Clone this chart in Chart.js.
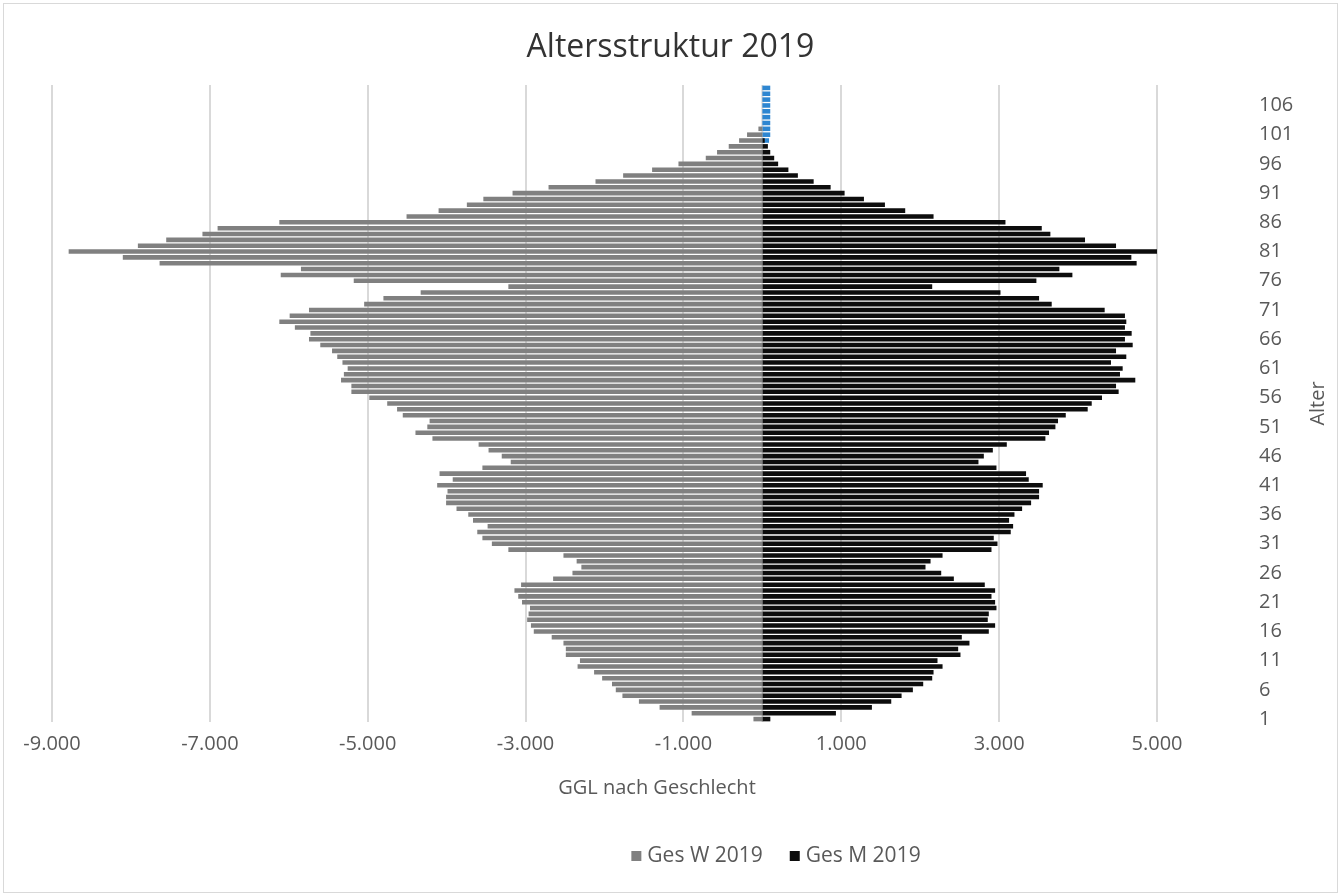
<!DOCTYPE html>
<html>
<head>
<meta charset="utf-8">
<script src="https://cdn.jsdelivr.net/npm/chart.js@4.4.0/dist/chart.umd.min.js"></script>
<style>
  html, body { margin: 0; padding: 0; background: #fff; }
  #wrap { width: 1341px; height: 896px; position: relative; }
</style>
</head>
<body>
<div id="wrap"><canvas id="pyramide" width="1341" height="896"></canvas></div>
<script>
// Alter 1..109
const alter = Array.from({ length: 109 }, (_, i) => String(i + 1));

// Ges W 2019 (negativ, linke Seite), Alter 1..109
const gesW2019 = [
    -113, -896, -1302, -1564, -1773, -1857, -1905, -2030, -2132, -2341,
    -2311, -2490, -2490, -2520, -2669, -2896, -2932, -2980, -2962, -2944,
    -3045, -3093, -3141, -3057, -2651, -2406, -2293, -2353, -2520, -3218,
    -3427, -3547, -3612, -3481, -3666, -3726, -3875, -4007, -4007, -3989,
    -4120, -3923, -4090, -3547, -3188, -3302, -3469, -3595, -4180, -4395,
    -4245, -4216, -4556, -4628, -4753, -4980, -5207, -5207, -5338, -5302,
    -5254, -5320, -5386, -5452, -5601, -5744, -5726, -5923, -6120, -5989,
    -5744, -5045, -4801, -4329, -3218, -5177, -6102, -5846, -7637, -8103,
    -8789, -7912, -7553, -7094, -6902, -6120, -4508, -4102, -3744, -3535,
    -3165, -2709, -2114, -1764, -1397, -1063, -717, -574, -426, -295,
    -194, -50, 0, 0, 0, 0, 0, 0, 0
];

// Ges M 2019 (rechte Seite), Alter 1..109
const gesM2019 = [
    101, 932, 1388, 1633, 1764, 1907, 2038, 2152, 2169, 2283,
    2219, 2510, 2481, 2624, 2527, 2869, 2949, 2856, 2869, 2966,
    2949, 2903, 2949, 2818, 2426, 2266, 2067, 2131, 2283, 2903,
    2979, 2932, 3147, 3177, 3126, 3194, 3291, 3405, 3506, 3506,
    3552, 3375, 3341, 2966, 2738, 2806, 2920, 3097, 3586, 3632,
    3713, 3746, 3844, 4122, 4173, 4303, 4514, 4481, 4725, 4531,
    4565, 4417, 4611, 4481, 4692, 4594, 4679, 4594, 4611, 4594,
    4337, 3666, 3506, 3017, 2152, 3472, 3928, 3763, 4742, 4675,
    5000, 4481, 4088, 3649, 3540, 3080, 2169, 1810, 1553, 1287,
    1042, 865, 650, 450, 330, 200, 150, 100, 70, 30,
    0, 0, 0, 0, 0, 0, 0, 0, 0
];

// blaue Markierung oben (Alter 100..109)
const markiert = alter.map(a => (+a >= 100 ? (+a === 100 ? 85 : 100) : null));

const achseX = { min: -9000, max: 5000, schritt: 2000 };

const schrift = "'Open Sans', 'Noto Sans', sans-serif";
const textFarbe = '#595959';

const zusatz = {
    id: 'zusatz',
    beforeDatasetsDraw(chart) {
        const { ctx, chartArea, scales } = chart;
        const x0 = scales.x.getPixelForValue(0);
        ctx.save();
        ctx.strokeStyle = '#d9d9d9';
        ctx.lineWidth = 2;
        ctx.beginPath();
        ctx.moveTo(x0, chartArea.top);
        ctx.lineTo(x0, chartArea.bottom);
        ctx.stroke();
        ctx.restore();
    },
    afterDraw(chart) {
        const { ctx, chartArea } = chart;
        ctx.save();
        ctx.textBaseline = 'middle';
        ctx.textAlign = 'center';

        // Titel
        ctx.fillStyle = '#333333';
        ctx.font = `32px ${schrift}`;
        ctx.fillText('Altersstruktur 2019', chart.width / 2, 48);

        // Achsentitel
        ctx.fillStyle = textFarbe;
        ctx.font = `20px ${schrift}`;
        ctx.fillText('GGL nach Geschlecht', chartArea.left + (chartArea.right - chartArea.left) * 0.5475, chartArea.bottom + 66);
        ctx.save();
        ctx.translate(1318, (chartArea.top + chartArea.bottom) / 2);
        ctx.rotate(-Math.PI / 2);
        ctx.fillText('Alter', 0, 0);
        ctx.restore();

        // Legende
        ctx.font = `21px ${schrift}`;
        ctx.textAlign = 'left';
        const eintraege = [['Ges W 2019', '#808080'], ['Ges M 2019', '#0d0d0d']];
        const breiten = eintraege.map(e => 10 + 6 + ctx.measureText(e[0]).width);
        const gesamt = breiten[0] + breiten[1] + 27;
        let x = 776 - gesamt / 2;
        const y = 856;
        eintraege.forEach((e, i) => {
            ctx.fillStyle = e[1];
            ctx.fillRect(x, y - 5, 10, 10);
            ctx.fillStyle = textFarbe;
            ctx.fillText(e[0], x + 16, y);
            x += breiten[i] + 27;
        });

        // Rahmen
        ctx.strokeStyle = '#d9d9d9';
        ctx.lineWidth = 1;
        ctx.strokeRect(3.5, 3.5, chart.width - 7, chart.height - 7);
        ctx.restore();
    }
};

const ctx = document.getElementById('pyramide').getContext('2d');
new Chart(ctx, {
    type: 'bar',
    data: {
        labels: alter,
        datasets: [
            { label: 'Ges W 2019', data: gesW2019, backgroundColor: '#808080' },
            { label: 'Ges M 2019', data: gesM2019, backgroundColor: '#0d0d0d' },
            { label: 'markiert', data: markiert, backgroundColor: '#2e86d1' }
        ]
    },
    options: {
        indexAxis: 'y',
        responsive: false,
        animation: false,
        devicePixelRatio: 1,
        datasets: { bar: { barPercentage: 0.78, categoryPercentage: 1 } },
        layout: { padding: { left: 52, right: 24, top: 85, bottom: 0 } },
        plugins: {
            legend: { display: false },
            tooltip: { enabled: false },
            title: { display: false }
        },
        scales: {
            x: {
                min: achseX.min,
                max: achseX.max,
                grid: { color: '#d9d9d9', lineWidth: 2, drawTicks: false },
                border: { display: false },
                ticks: {
                    stepSize: achseX.schritt,
                    padding: 10,
                    color: textFarbe,
                    font: { family: schrift, size: 20 },
                    callback: v => v.toLocaleString('de-DE')
                },
                afterFit: s => { s.height = 174; }
            },
            y: {
                position: 'right',
                reverse: true,
                stacked: true,
                grid: { display: false, drawTicks: true, tickLength: 96 },
                border: { display: false },
                ticks: {
                    autoSkip: false,
                    padding: 6,
                    color: textFarbe,
                    font: { family: schrift, size: 20 },
                    callback: function (v, i) { return i % 5 === 0 ? alter[i] : ''; }
                },
                afterFit: s => { s.width = 160; }
            }
        }
    },
    plugins: [zusatz]
});
</script>
</body>
</html>
